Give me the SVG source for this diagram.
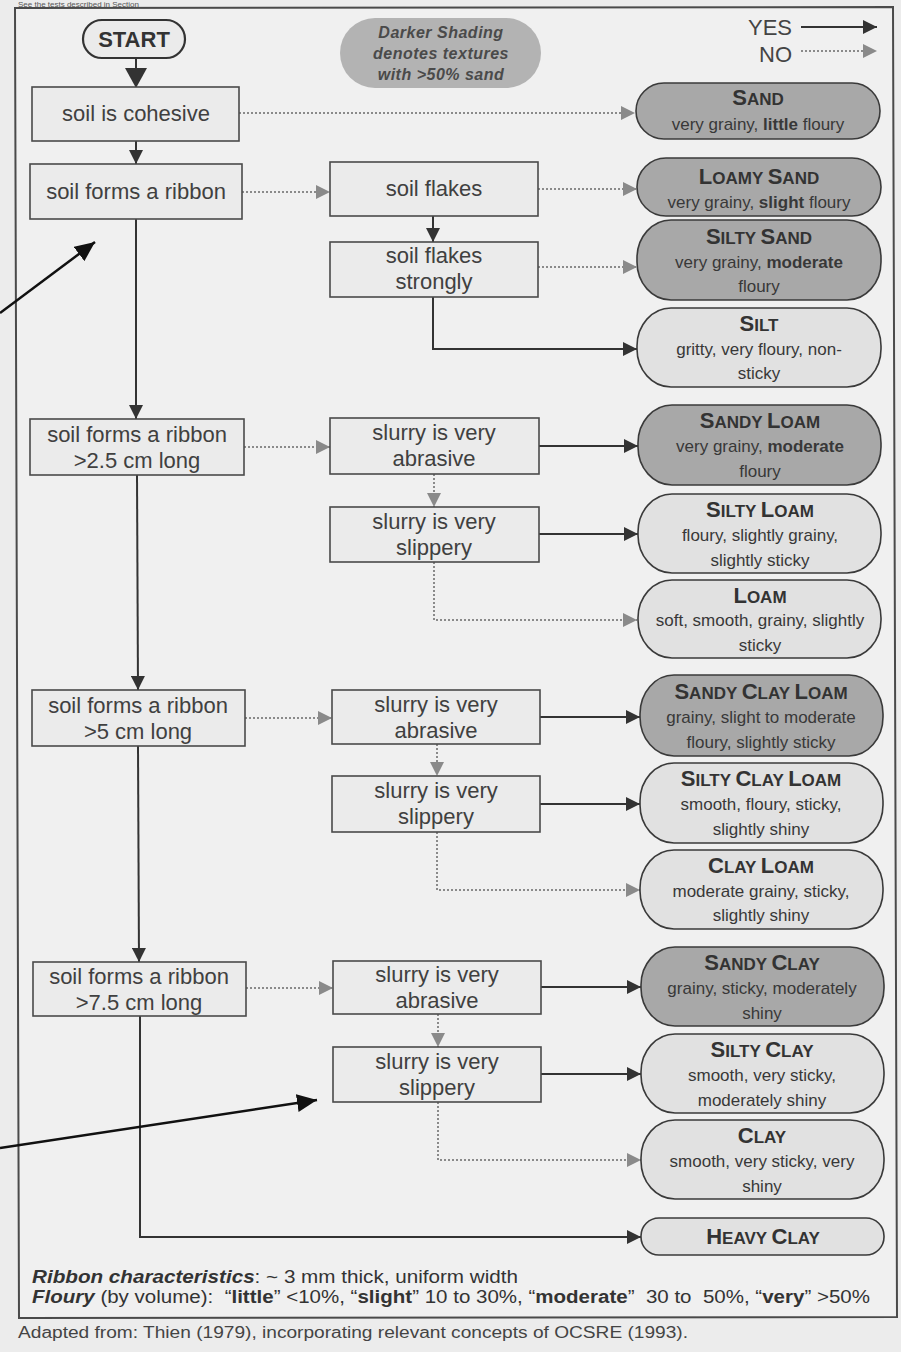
<svg xmlns="http://www.w3.org/2000/svg" width="901" height="1352" viewBox="0 0 901 1352">
<style>
text{font-family:"Liberation Sans",Arial,Helvetica,sans-serif;}
.box{fill:#ebebeb;stroke:#4a4a4a;stroke-width:1.6;}
.bt{font-size:22px;fill:#404040;text-anchor:middle;}
.pd{fill:#a8a8a8;stroke:#3a3a3a;stroke-width:1.6;}
.pl{fill:#e1e1e1;stroke:#3a3a3a;stroke-width:1.6;}
.pt{font-weight:bold;fill:#333;text-anchor:middle;}
.bg{font-size:22px;}
.sm{font-size:17px;}
.ps{font-size:17px;fill:#383838;text-anchor:middle;}
.b{font-weight:bold;}
.yes{fill:none;stroke:#333;stroke-width:2;}
.no{fill:none;stroke:#8a8a8a;stroke-width:2;stroke-dasharray:2 2;}
.ann{fill:none;stroke:#111;stroke-width:2.5;}
</style>
<defs>
<marker id="ah" markerUnits="userSpaceOnUse" markerWidth="14" markerHeight="14" refX="14" refY="7" orient="auto"><path d="M0,0 L14,7 L0,14 z" fill="#333"/></marker>
<marker id="ahL" markerUnits="userSpaceOnUse" markerWidth="20" markerHeight="22" refX="20" refY="11" orient="auto"><path d="M0,0 L20,11 L0,22 z" fill="#333"/></marker>
<marker id="ag" markerUnits="userSpaceOnUse" markerWidth="14" markerHeight="14" refX="14" refY="7" orient="auto"><path d="M0,0 L14,7 L0,14 z" fill="#8a8a8a"/></marker>
<marker id="ak" markerUnits="userSpaceOnUse" markerWidth="20" markerHeight="18" refX="20" refY="9" orient="auto"><path d="M0,0 L20,9 L0,18 z" fill="#111"/></marker>
</defs>

<rect x="0" y="0" width="901" height="1352" fill="#ececec"/>
<text x="18" y="6.5" font-size="8" fill="#555">See the tests described in Section</text>
<polygon points="15,8 893,7 897,1317 19,1318" fill="#f0f0f0" stroke="#4a4a4a" stroke-width="2"/>

<!-- legend -->
<g id="legend-shading">
<rect x="340" y="18" width="201" height="70" rx="35" ry="35" fill="#b3b3b3"/>
<text x="441" y="38" font-size="16" font-weight="bold" font-style="italic" fill="#4a4a4a" text-anchor="middle" letter-spacing="0.5">Darker Shading</text>
<text x="441" y="59" font-size="16" font-weight="bold" font-style="italic" fill="#4a4a4a" text-anchor="middle" letter-spacing="0.5">denotes textures</text>
<text x="441" y="80" font-size="16" font-weight="bold" font-style="italic" fill="#4a4a4a" text-anchor="middle" letter-spacing="0.5">with &gt;50% sand</text>
</g>
<g id="legend-yesno">
<text x="792" y="35" font-size="22" fill="#444" text-anchor="end">YES</text>
<text x="792" y="62" font-size="22" fill="#444" text-anchor="end">NO</text>
<line x1="801" y1="27" x2="877" y2="27" class="yes" marker-end="url(#ah)"/>
<line x1="801" y1="51" x2="877" y2="51" class="no" marker-end="url(#ag)"/>
</g>

<!-- connectors -->
<g id="connectors">
<line x1="136" y1="58" x2="136" y2="88" class="yes" marker-end="url(#ahL)"/>
<line x1="136" y1="141" x2="136" y2="164" class="yes" marker-end="url(#ah)"/>
<line x1="136" y1="219" x2="136" y2="419" class="yes" marker-end="url(#ah)"/>
<line x1="137" y1="475" x2="138" y2="690" class="yes" marker-end="url(#ah)"/>
<line x1="138" y1="746" x2="139" y2="962" class="yes" marker-end="url(#ah)"/>
<polyline points="140,1016 140,1237 641,1237" class="yes" marker-end="url(#ah)"/>
<line x1="433" y1="216" x2="433" y2="242" class="yes" marker-end="url(#ah)"/>
<polyline points="433,297 433,349 637,349" class="yes" marker-end="url(#ah)"/>
<line x1="539" y1="446" x2="638" y2="446" class="yes" marker-end="url(#ah)"/>
<line x1="539" y1="534" x2="638" y2="534" class="yes" marker-end="url(#ah)"/>
<line x1="540" y1="717" x2="640" y2="717" class="yes" marker-end="url(#ah)"/>
<line x1="540" y1="804" x2="640" y2="804" class="yes" marker-end="url(#ah)"/>
<line x1="541" y1="987" x2="641" y2="987" class="yes" marker-end="url(#ah)"/>
<line x1="541" y1="1074" x2="641" y2="1074" class="yes" marker-end="url(#ah)"/>

<line x1="239" y1="113" x2="635" y2="113" class="no" marker-end="url(#ag)"/>
<line x1="242" y1="192" x2="330" y2="192" class="no" marker-end="url(#ag)"/>
<line x1="538" y1="189" x2="637" y2="189" class="no" marker-end="url(#ag)"/>
<line x1="538" y1="267" x2="637" y2="267" class="no" marker-end="url(#ag)"/>
<line x1="244" y1="447" x2="330" y2="447" class="no" marker-end="url(#ag)"/>
<line x1="434" y1="474" x2="434" y2="507" class="no" marker-end="url(#ag)"/>
<polyline points="434,562 434,620 637,620" class="no" marker-end="url(#ag)"/>
<line x1="245" y1="718" x2="332" y2="718" class="no" marker-end="url(#ag)"/>
<line x1="437" y1="744" x2="437" y2="776" class="no" marker-end="url(#ag)"/>
<polyline points="437,832 437,890 640,890" class="no" marker-end="url(#ag)"/>
<line x1="246" y1="988" x2="333" y2="988" class="no" marker-end="url(#ag)"/>
<line x1="438" y1="1014" x2="438" y2="1047" class="no" marker-end="url(#ag)"/>
<polyline points="438,1102 438,1160 641,1160" class="no" marker-end="url(#ag)"/>

<line x1="0" y1="313" x2="95" y2="242" class="ann" marker-end="url(#ak)"/>
<line x1="0" y1="1148" x2="317" y2="1100" class="ann" marker-end="url(#ak)"/>
</g>

<!-- decision nodes -->
<g id="n-start">
<rect x="83" y="20" width="102" height="38" rx="19" ry="19" fill="#ebebeb" stroke="#333" stroke-width="2.2"/>
<text x="134" y="47" font-size="22" font-weight="bold" fill="#333" text-anchor="middle">START</text>
</g>
<g id="n-cohesive"><rect class="box" x="32" y="87" width="207" height="54"/><text class="bt" x="136" y="121">soil is cohesive</text></g>
<g id="n-ribbon"><rect class="box" x="30" y="164" width="212" height="55"/><text class="bt" x="136" y="199">soil forms a ribbon</text></g>
<g id="n-flakes"><rect class="box" x="330" y="162" width="208" height="54"/><text class="bt" x="434" y="196">soil flakes</text></g>
<g id="n-flakes-strongly"><rect class="box" x="330" y="242" width="208" height="55"/><text class="bt" x="434" y="263">soil flakes</text><text class="bt" x="434" y="289">strongly</text></g>

<g id="n-ribbon25"><rect class="box" x="30" y="419" width="214" height="56"/><text class="bt" x="137" y="442">soil forms a ribbon</text><text class="bt" x="137" y="468">&gt;2.5 cm long</text></g>
<g id="n-abrasive1"><rect class="box" x="330" y="418" width="209" height="56"/><text class="bt" x="434" y="440">slurry is very</text><text class="bt" x="434" y="466">abrasive</text></g>
<g id="n-slippery1"><rect class="box" x="330" y="507" width="209" height="55"/><text class="bt" x="434" y="529">slurry is very</text><text class="bt" x="434" y="555">slippery</text></g>

<g id="n-ribbon5"><rect class="box" x="32" y="690" width="213" height="56"/><text class="bt" x="138" y="713">soil forms a ribbon</text><text class="bt" x="138" y="739">&gt;5 cm long</text></g>
<g id="n-abrasive2"><rect class="box" x="332" y="690" width="208" height="54"/><text class="bt" x="436" y="712">slurry is very</text><text class="bt" x="436" y="738">abrasive</text></g>
<g id="n-slippery2"><rect class="box" x="332" y="776" width="208" height="56"/><text class="bt" x="436" y="798">slurry is very</text><text class="bt" x="436" y="824">slippery</text></g>

<g id="n-ribbon75"><rect class="box" x="33" y="962" width="213" height="54"/><text class="bt" x="139" y="984">soil forms a ribbon</text><text class="bt" x="139" y="1010">&gt;7.5 cm long</text></g>
<g id="n-abrasive3"><rect class="box" x="333" y="961" width="208" height="53"/><text class="bt" x="437" y="982">slurry is very</text><text class="bt" x="437" y="1008">abrasive</text></g>
<g id="n-slippery3"><rect class="box" x="333" y="1047" width="208" height="55"/><text class="bt" x="437" y="1069">slurry is very</text><text class="bt" x="437" y="1095">slippery</text></g>

<!-- texture nodes -->
<g id="n-sand"><rect class="pd" x="636" y="83" width="244" height="56" rx="28" ry="28"/>
<text class="pt" x="758" y="105"><tspan class="bg">S</tspan><tspan class="sm">AND</tspan></text>
<text class="ps" x="758" y="130">very grainy, <tspan class="b">little</tspan> floury</text></g>

<g id="n-loamy-sand"><rect class="pd" x="637" y="158" width="244" height="58" rx="29" ry="29"/>
<text class="pt" x="759" y="184"><tspan class="bg">L</tspan><tspan class="sm">OAMY </tspan><tspan class="bg">S</tspan><tspan class="sm">AND</tspan></text>
<text class="ps" x="759" y="208">very grainy, <tspan class="b">slight</tspan> floury</text></g>

<g id="n-silty-sand"><rect class="pd" x="637" y="220" width="244" height="80" rx="34" ry="38"/>
<text class="pt" x="759" y="244"><tspan class="bg">S</tspan><tspan class="sm">ILTY </tspan><tspan class="bg">S</tspan><tspan class="sm">AND</tspan></text>
<text class="ps" x="759" y="268">very grainy, <tspan class="b">moderate</tspan></text>
<text class="ps" x="759" y="292">floury</text></g>

<g id="n-silt"><rect class="pl" x="637" y="308" width="244" height="79" rx="34" ry="38"/>
<text class="pt" x="759" y="331"><tspan class="bg">S</tspan><tspan class="sm">ILT</tspan></text>
<text class="ps" x="759" y="355">gritty, very floury, non-</text>
<text class="ps" x="759" y="379">sticky</text></g>

<g id="n-sandy-loam"><rect class="pd" x="638" y="405" width="243" height="80" rx="34" ry="38"/>
<text class="pt" x="760" y="428"><tspan class="bg">S</tspan><tspan class="sm">ANDY </tspan><tspan class="bg">L</tspan><tspan class="sm">OAM</tspan></text>
<text class="ps" x="760" y="452">very grainy, <tspan class="b">moderate</tspan></text>
<text class="ps" x="760" y="477">floury</text></g>

<g id="n-silty-loam"><rect class="pl" x="638" y="494" width="243" height="79" rx="34" ry="38"/>
<text class="pt" x="760" y="517"><tspan class="bg">S</tspan><tspan class="sm">ILTY </tspan><tspan class="bg">L</tspan><tspan class="sm">OAM</tspan></text>
<text class="ps" x="760" y="541">floury, slightly grainy,</text>
<text class="ps" x="760" y="566">slightly sticky</text></g>

<g id="n-loam"><rect class="pl" x="638" y="580" width="243" height="78" rx="34" ry="38"/>
<text class="pt" x="760" y="603"><tspan class="bg">L</tspan><tspan class="sm">OAM</tspan></text>
<text class="ps" x="760" y="626">soft, smooth, grainy, slightly</text>
<text class="ps" x="760" y="651">sticky</text></g>

<g id="n-sandy-clay-loam"><rect class="pd" x="640" y="675" width="243" height="81" rx="34" ry="39"/>
<text class="pt" x="761" y="699"><tspan class="bg">S</tspan><tspan class="sm">ANDY </tspan><tspan class="bg">C</tspan><tspan class="sm">LAY </tspan><tspan class="bg">L</tspan><tspan class="sm">OAM</tspan></text>
<text class="ps" x="761" y="723">grainy, slight to moderate</text>
<text class="ps" x="761" y="748">floury, slightly sticky</text></g>

<g id="n-silty-clay-loam"><rect class="pl" x="640" y="763" width="243" height="80" rx="34" ry="38"/>
<text class="pt" x="761" y="786"><tspan class="bg">S</tspan><tspan class="sm">ILTY </tspan><tspan class="bg">C</tspan><tspan class="sm">LAY </tspan><tspan class="bg">L</tspan><tspan class="sm">OAM</tspan></text>
<text class="ps" x="761" y="810">smooth, floury, sticky,</text>
<text class="ps" x="761" y="835">slightly shiny</text></g>

<g id="n-clay-loam"><rect class="pl" x="640" y="850" width="243" height="79" rx="34" ry="38"/>
<text class="pt" x="761" y="873"><tspan class="bg">C</tspan><tspan class="sm">LAY </tspan><tspan class="bg">L</tspan><tspan class="sm">OAM</tspan></text>
<text class="ps" x="761" y="897">moderate grainy, sticky,</text>
<text class="ps" x="761" y="921">slightly shiny</text></g>

<g id="n-sandy-clay"><rect class="pd" x="641" y="947" width="243" height="79" rx="34" ry="38"/>
<text class="pt" x="762" y="970"><tspan class="bg">S</tspan><tspan class="sm">ANDY </tspan><tspan class="bg">C</tspan><tspan class="sm">LAY</tspan></text>
<text class="ps" x="762" y="994">grainy, sticky, moderately</text>
<text class="ps" x="762" y="1019">shiny</text></g>

<g id="n-silty-clay"><rect class="pl" x="641" y="1034" width="243" height="79" rx="34" ry="38"/>
<text class="pt" x="762" y="1057"><tspan class="bg">S</tspan><tspan class="sm">ILTY </tspan><tspan class="bg">C</tspan><tspan class="sm">LAY</tspan></text>
<text class="ps" x="762" y="1081">smooth, very sticky,</text>
<text class="ps" x="762" y="1106">moderately shiny</text></g>

<g id="n-clay"><rect class="pl" x="641" y="1120" width="243" height="79" rx="34" ry="38"/>
<text class="pt" x="762" y="1143"><tspan class="bg">C</tspan><tspan class="sm">LAY</tspan></text>
<text class="ps" x="762" y="1167">smooth, very sticky, very</text>
<text class="ps" x="762" y="1192">shiny</text></g>

<g id="n-heavy-clay"><rect class="pl" x="641" y="1218" width="243" height="37" rx="18" ry="18"/>
<text class="pt" x="763" y="1244"><tspan class="bg">H</tspan><tspan class="sm">EAVY </tspan><tspan class="bg">C</tspan><tspan class="sm">LAY</tspan></text></g>

<!-- notes -->
<g id="notes">
<text x="32" y="1283" font-size="18" fill="#333" textLength="486" lengthAdjust="spacingAndGlyphs"><tspan font-weight="bold" font-style="italic">Ribbon characteristics</tspan>:  ~ 3 mm thick, uniform width</text>
<text x="32" y="1303" font-size="18" fill="#333" textLength="838" lengthAdjust="spacingAndGlyphs" xml:space="preserve"><tspan font-weight="bold" font-style="italic">Floury</tspan> (by volume):  “<tspan font-weight="bold">little</tspan>” &lt;10%, “<tspan font-weight="bold">slight</tspan>” 10 to 30%, “<tspan font-weight="bold">moderate</tspan>”  30 to  50%, “<tspan font-weight="bold">very</tspan>” &gt;50%</text>
<text x="18" y="1338" font-size="16" fill="#444" textLength="670" lengthAdjust="spacingAndGlyphs">Adapted from: Thien (1979), incorporating relevant concepts of OCSRE (1993).</text>
</g>
</svg>
